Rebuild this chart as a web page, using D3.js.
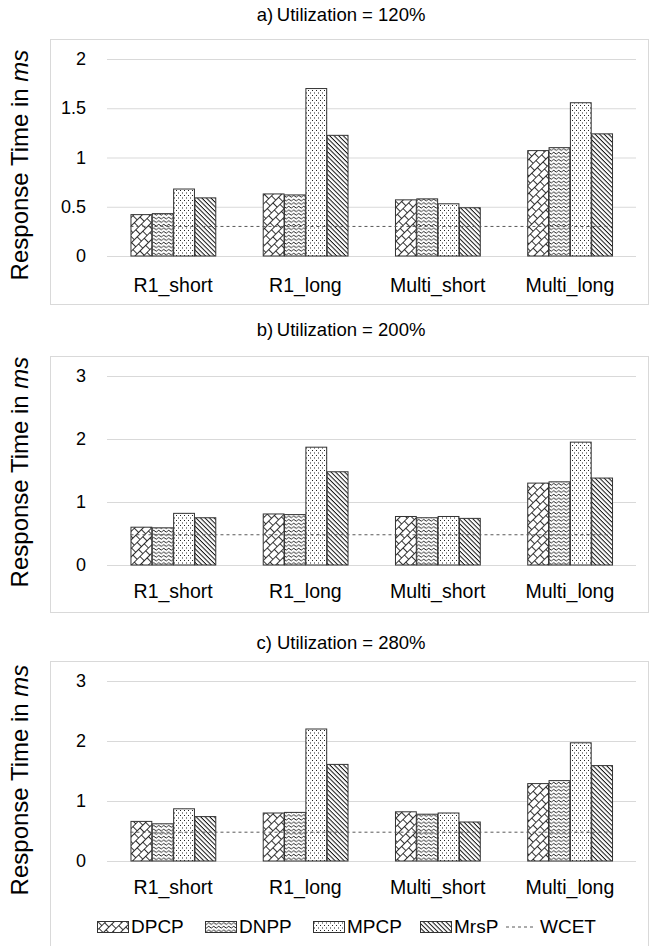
<!DOCTYPE html>
<html><head><meta charset="utf-8">
<script src="https://cdn.jsdelivr.net/npm/d3@7"></script>
<style>body{margin:0;background:#fff}svg{display:block}text{font-family:"Liberation Sans",Arial,sans-serif;fill:#000}</style>
</head><body><svg id="c" width="655" height="946"></svg>
<script>
const categories = ["R1_short","R1_long","Multi_short","Multi_long"];
const seriesNames = ["DPCP","DNPP","MPCP","MrsP"];
const panelTitles = ["a)\u2009Utilization = 120%","b)\u2009Utilization = 200%","c) Utilization = 280%"];
// values per series (rows: DPCP, DNPP, MPCP, MrsP; cols: categories)
const u120 = [[0.42,0.63,0.57,1.07],[0.43,0.62,0.58,1.10],[0.68,1.70,0.53,1.556],[0.59,1.225,0.49,1.24]];
const u200 = [[0.60,0.81,0.77,1.30],[0.59,0.80,0.75,1.32],[0.82,1.87,0.77,1.95],[0.75,1.48,0.74,1.38]];
const u280 = [[0.66,0.80,0.82,1.29],[0.62,0.81,0.78,1.34],[0.87,2.20,0.80,1.97],[0.74,1.61,0.65,1.59]];
const wcet = [0.30,0.48,0.48];
const ticks120 = [0,0.5,1,1.5,2];
const ticks200 = [0,1,2,3];
const ticks280 = [0,1,2,3];
const legendItems = ["DPCP","DNPP","MPCP","MrsP","WCET"];

const svg = d3.select("#c");
const defs = svg.append("defs");
function pat(id, w, h, transform){
  const p = defs.append("pattern").attr("id",id).attr("patternUnits","userSpaceOnUse").attr("width",w).attr("height",h);
  if(transform) p.attr("patternTransform",transform);
  p.append("rect").attr("width",w).attr("height",h).attr("fill","#fff");
  return p;
}
let p1 = pat("pDPCP",8,12,"rotate(-45)");
["M0,0.5 H8","M0,6.5 H8","M1.5,0.5 V6.5","M5.5,6.5 V12.5"].forEach(d=>{
  p1.append("path").attr("d",d).attr("stroke","#000").attr("stroke-width",0.8).attr("fill","none");
});
let p2 = pat("pDNPP",5,3.6);
p2.append("path").attr("d","M-2.5,2 Q-1.25,0.3 0,2 T2.5,2 T5,2 T7.5,2").attr("fill","none").attr("stroke","#000").attr("stroke-width",0.9);
let p3 = pat("pMPCP",4,5);
p3.append("rect").attr("x",0).attr("y",0).attr("width",1).attr("height",1).attr("fill","#222");
p3.append("rect").attr("x",2).attr("y",2.5).attr("width",1).attr("height",1).attr("fill","#222");
let p4 = pat("pMrsP",3.2,3.2,"rotate(45)");
p4.append("rect").attr("x",0).attr("y",0).attr("width",3.2).attr("height",1).attr("fill","#111");
const fills = {DPCP:"url(#pDPCP)",DNPP:"url(#pDNPP)",MPCP:"url(#pMPCP)",MrsP:"url(#pMrsP)"};

const panels = [
  {data:u120, ticks:ticks120, max:2, frame:[39,304], y0:256, yTop:59, labelY:292, titleY:21, w:wcet[0], ty:165},
  {data:u200, ticks:ticks200, max:3, frame:[356,612], y0:565, yTop:376, labelY:598, titleY:336, w:wcet[1], ty:472},
  {data:u280, ticks:ticks280, max:3, frame:[661,946], y0:861, yTop:681, labelY:894, titleY:649, w:wcet[2], ty:780}
];
const plotL = 107, plotR = 636;
const x0 = d3.scaleBand().domain(categories).range([plotL,plotR]);
const gw = x0.bandwidth()*0.645;
const x1 = d3.scaleBand().domain(seriesNames).range([(x0.bandwidth()-gw)/2,(x0.bandwidth()+gw)/2]);

panels.forEach((P,pi)=>{
  const g = svg.append("g");
  g.append("rect").attr("x",50.5).attr("y",P.frame[0]+0.5).attr("width",598).attr("height",P.frame[1]-P.frame[0]).attr("fill","none").attr("stroke","#d9d9d9");
  g.append("text").attr("x",341).attr("y",P.titleY).attr("text-anchor","middle").attr("font-size",18.5).text(panelTitles[pi]);
  const y = d3.scaleLinear().domain([0,P.max]).range([P.y0,P.yTop]);
  const ax = d3.axisLeft(y).tickValues(P.ticks).tickSize(-(plotR-plotL)).tickFormat("");
  const ag = g.append("g").attr("transform",`translate(${plotL},0)`).call(ax);
  ag.select(".domain").remove();
  ag.selectAll(".tick line").attr("stroke","#d9d9d9").attr("stroke-width",1);
  g.selectAll(null).data(P.ticks).enter().append("text")
    .attr("x",86).attr("y",d=>y(d)+6).attr("text-anchor","end").attr("font-size",18)
    .text(d3.format("~g"));
  seriesNames.forEach((s,si)=>{
    g.selectAll(null).data(P.data[si]).enter().append("rect")
      .attr("x",(d,i)=>x0(categories[i])+x1(s)+0.5)
      .attr("y",d=>y(d))
      .attr("width",x1.bandwidth()-0.5)
      .attr("height",d=>y(0)-y(d))
      .attr("fill",fills[s]).attr("stroke","#333").attr("stroke-width",1);
  });
  const xs = x0(categories[0])+x1(seriesNames[0]);
  const xe = x0(categories[3])+x1(seriesNames[3])+x1.bandwidth();
  g.append("line").attr("x1",xs).attr("x2",xe).attr("y1",y(P.w)).attr("y2",y(P.w))
    .attr("stroke","#595959").attr("stroke-width",1).attr("stroke-dasharray","3,3");
  g.selectAll(null).data(categories).enter().append("text")
    .attr("x",d=>x0(d)+x0.bandwidth()/2).attr("y",P.labelY).attr("text-anchor","middle").attr("font-size",19.5).text(d=>d);
  const t = g.append("text").attr("transform",`translate(28,${P.ty}) rotate(-90)`).attr("text-anchor","middle").attr("font-size",24);
  t.append("tspan").text("Response Time in ");
  t.append("tspan").attr("font-style","italic").text("ms");
});

const lg = svg.append("g");
const lx = [97,205,313,420,506];
legendItems.forEach((s,i)=>{
  if(s==="WCET"){
    lg.append("line").attr("x1",lx[i]).attr("x2",lx[i]+30).attr("y1",927).attr("y2",927).attr("stroke","#595959").attr("stroke-dasharray","3,3");
  } else {
    lg.append("rect").attr("x",lx[i]+0.5).attr("y",921.5).attr("width",31).attr("height",11).attr("fill",fills[s]).attr("stroke","#333");
  }
  lg.append("text").attr("x",lx[i]+34).attr("y",933).attr("font-size",19).text(s);
});
</script></body></html>
